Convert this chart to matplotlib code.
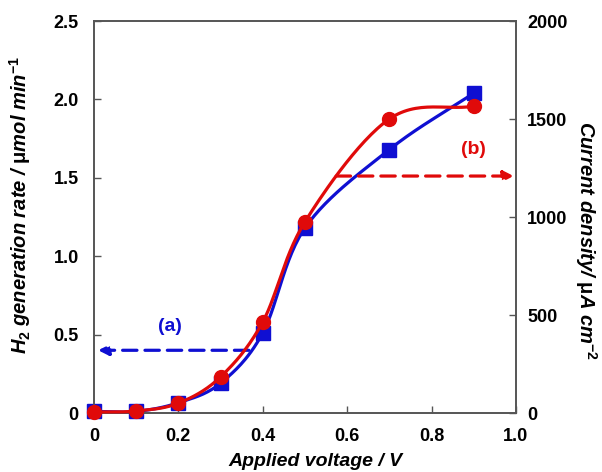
import numpy as np
import matplotlib
matplotlib.use("Agg")
import matplotlib.pyplot as plt

voltage = [0.0, 0.1, 0.2, 0.3, 0.4, 0.5, 0.7, 0.9]
h2_rate = [0.01, 0.01, 0.065, 0.19, 0.51, 1.18, 1.68, 2.04]          # left axis (blue squares)
current = [5, 10, 50, 184, 464, 975, 1500, 1565]                      # right axis (red circles)

x_ticks = [0, 0.2, 0.4, 0.6, 0.8, 1.0]
x_tick_labels = ["0", "0.2", "0.4", "0.6", "0.8", "1.0"]
y1_ticks = [0, 0.5, 1.0, 1.5, 2.0, 2.5]
y1_tick_labels = ["0", "0.5", "1.0", "1.5", "2.0", "2.5"]
y2_ticks = [0, 500, 1000, 1500, 2000]
y2_tick_labels = ["0", "500", "1000", "1500", "2000"]

BLUE = "#0F0FD2"
RED = "#E00A0A"

plt.rcParams['font.family'] = ['Liberation Sans', 'DejaVu Sans']
plt.rcParams['mathtext.fontset'] = 'custom'
plt.rcParams['mathtext.it'] = 'Liberation Sans:italic:bold'
plt.rcParams['mathtext.rm'] = 'Liberation Sans:bold'
plt.rcParams['mathtext.bf'] = 'Liberation Sans:bold'


def smooth(xs, ys, n=30):
    # Catmull-Rom style smoothing through the given points (Excel-like smoothed line)
    xs = np.asarray(xs, float); ys = np.asarray(ys, float)
    px = np.concatenate([[2 * xs[0] - xs[1]], xs, [2 * xs[-1] - xs[-2]]])
    py = np.concatenate([[2 * ys[0] - ys[1]], ys, [2 * ys[-1] - ys[-2]]])
    ox, oy = [], []
    t = 1 / 6.0
    for i in range(1, len(px) - 2):
        p0 = np.array([px[i], py[i]]); p3 = np.array([px[i + 1], py[i + 1]])
        c1 = p0 + (np.array([px[i + 1], py[i + 1]]) - np.array([px[i - 1], py[i - 1]])) * t
        c2 = p3 - (np.array([px[i + 2], py[i + 2]]) - p0) * t
        s = np.linspace(0, 1, n)[:, None]
        pts = (1 - s) ** 3 * p0 + 3 * (1 - s) ** 2 * s * c1 + 3 * (1 - s) * s ** 2 * c2 + s ** 3 * p3
        ox.extend(pts[:, 0]); oy.extend(pts[:, 1])
    return np.array(ox), np.array(oy)


fig = plt.figure(figsize=(6.02, 4.72), dpi=100)
ax = fig.add_axes([0.156, 0.125, 0.701, 0.8305])
ax2 = ax.twinx()

ax.set_xlim(0, 1.0)
ax.set_ylim(0, 2.5)
ax2.set_ylim(0, 2000)

sx, sy = smooth(voltage, h2_rate)
ax.plot(sx, sy, color=BLUE, lw=2.3, clip_on=False, zorder=3)
ax.plot(voltage, h2_rate, 's', color=BLUE, ms=10, clip_on=False, zorder=4)

sx2, sy2 = smooth(voltage, current)
ax2.plot(sx2, sy2, color=RED, lw=2.3, clip_on=False, zorder=3)
ax2.plot(voltage, current, 'o', color=RED, ms=10, clip_on=False, zorder=4)

# arrows
ax.annotate("", xy=(0.01, 0.40), xytext=(0.367, 0.40),
            arrowprops=dict(arrowstyle="-|>", color=BLUE, lw=2.3, ls=(0, (4.5, 2.5)),
                            mutation_scale=15, shrinkA=0, shrinkB=0))
ax.text(0.18, 0.55, "(a)", color=BLUE, fontsize=14, fontweight='bold', ha='center', va='center')
ax2.annotate("", xy=(0.995, 1209), xytext=(0.574, 1209),
             arrowprops=dict(arrowstyle="-|>", color=RED, lw=2.3, ls=(0, (4.5, 2.5)),
                             mutation_scale=15, shrinkA=0, shrinkB=0))
ax2.text(0.9, 1342, "(b)", color=RED, fontsize=14, fontweight='bold', ha='center', va='center')

ax.set_xticks(x_ticks)
ax.set_xticklabels(x_tick_labels)
ax.set_yticks(y1_ticks)
ax.set_yticklabels(y1_tick_labels)
ax2.set_yticks(y2_ticks)
ax2.set_yticklabels(y2_tick_labels)

for a in (ax, ax2):
    a.tick_params(direction='in', length=5, width=1, labelsize=13, colors='#555555', labelcolor='black')
    for lab in a.get_xticklabels() + a.get_yticklabels():
        lab.set_fontweight('bold')
    for sp in a.spines.values():
        sp.set_color('#555555')
        sp.set_linewidth(1.2)
ax.tick_params(axis='x', pad=11)
ax.tick_params(axis='y', pad=11)
ax2.tick_params(axis='y', pad=8)

ax.set_xlabel("Applied voltage / V", fontsize=14, fontweight='bold', style='italic', va='center')
ax.xaxis.set_label_coords(0.524, -0.123)
ax.set_ylabel(r"$\mathit{H}_{\mathbf{2}}$ generation rate / $\mathrm{μ}$mol min$^{\mathbf{-1}}$", fontsize=14.5,
              fontweight='bold', style='italic', va='center')
ax.yaxis.set_label_coords(-0.175, 0.53)
ax2.set_ylabel(r"Current density/ $\mathrm{μ}$A cm$^{\mathbf{-2}}$", fontsize=14.5, fontweight='bold',
               style='italic', rotation=270, va='center')
ax2.yaxis.set_label_coords(1.165, 0.44)

fig.savefig("out.png", dpi=100)
